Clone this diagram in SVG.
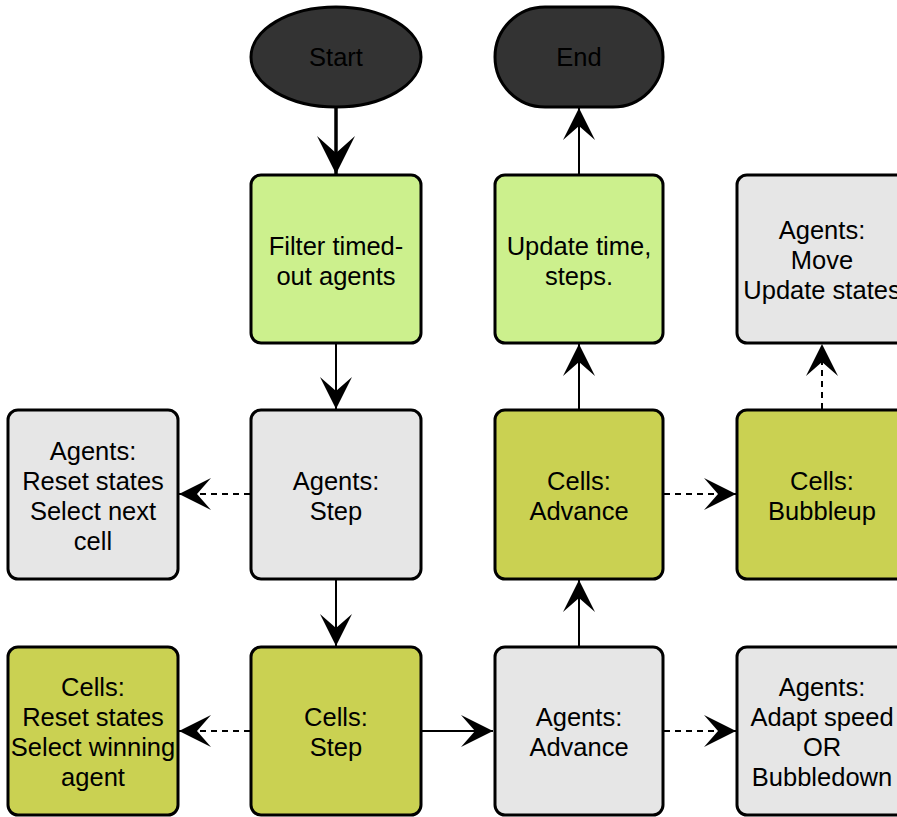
<svg xmlns="http://www.w3.org/2000/svg" width="897" height="817" viewBox="0 0 897 817">
  <style>
    .box { stroke: #000; stroke-width: 3; }
    .light { fill: #ccf08d; }
    .olive { fill: #cad152; }
    .grey { fill: #e6e6e6; }
    .dark { fill: #333333; }
    text { font-family: "Liberation Sans", Arial, sans-serif; font-size: 25.5px; fill: #000; text-anchor: middle; }
    .edge { stroke: #000; stroke-width: 2; fill: none; marker-end: url(#head); }
    .dash { stroke-dasharray: 6 5; }
    .thick { stroke-width: 3.5; marker-end: url(#bighead); }
  </style>
  <defs>
    <marker id="head" markerUnits="userSpaceOnUse" orient="auto" markerWidth="40" markerHeight="40" viewBox="-34 -20 40 40" refX="0" refY="0" overflow="visible">
      <path d="M0,0 L-32,-16 L-18,0 L-32,16 Z" fill="#000"/>
    </marker>
    <marker id="bighead" markerUnits="userSpaceOnUse" orient="auto" markerWidth="46" markerHeight="46" viewBox="-40 -23 46 46" refX="0" refY="0" overflow="visible">
      <path d="M0,0 L-38,-19 L-21,0 L-38,19 Z" fill="#000"/>
    </marker>
  </defs>

  <!-- connectors -->
  <g id="connectors">
    <line class="edge thick" x1="336" y1="108" x2="336" y2="174"/>
    <line class="edge" x1="336" y1="344" x2="336" y2="409"/>
    <line class="edge dash" x1="250" y1="494" x2="179" y2="494"/>
    <line class="edge" x1="336" y1="580" x2="336" y2="646"/>
    <line class="edge dash" x1="250" y1="731" x2="179" y2="731"/>
    <line class="edge" x1="422" y1="731" x2="493" y2="731"/>
    <line class="edge dash" x1="664" y1="731" x2="736" y2="731"/>
    <line class="edge" x1="579" y1="646" x2="579" y2="580"/>
    <line class="edge dash" x1="664" y1="494" x2="736" y2="494"/>
    <line class="edge" x1="579" y1="409" x2="579" y2="344"/>
    <line class="edge" x1="579" y1="174" x2="579" y2="108"/>
    <line class="edge dash" x1="822" y1="409" x2="822" y2="344"/>
  </g>

  <!-- terminals -->
  <g id="start">
    <ellipse class="box dark" cx="336" cy="57" rx="85" ry="50"/>
    <text x="336" y="66">Start</text>
  </g>
  <g id="end">
    <rect class="box dark" x="495" y="7" width="168" height="100" rx="50"/>
    <text x="579" y="66">End</text>
  </g>

  <!-- row 1 -->
  <g id="filter-timed-out">
    <rect class="box light" x="251" y="175" width="170" height="168" rx="10"/>
    <text x="336" y="255">Filter timed-</text>
    <text x="336" y="285">out agents</text>
  </g>
  <g id="update-time">
    <rect class="box light" x="495" y="175" width="168" height="168" rx="10"/>
    <text x="579" y="255">Update time,</text>
    <text x="579" y="285">steps.</text>
  </g>
  <g id="agents-move">
    <rect class="box grey" x="737" y="175" width="170" height="168" rx="10"/>
    <text x="822" y="239">Agents:</text>
    <text x="822" y="269">Move</text>
    <text x="822" y="299">Update states</text>
  </g>

  <!-- row 2 -->
  <g id="agents-reset">
    <rect class="box grey" x="8" y="410" width="170" height="169" rx="10"/>
    <text x="93" y="460">Agents:</text>
    <text x="93" y="490">Reset states</text>
    <text x="93" y="520">Select next</text>
    <text x="93" y="550">cell</text>
  </g>
  <g id="agents-step">
    <rect class="box grey" x="251" y="410" width="170" height="169" rx="10"/>
    <text x="336" y="490">Agents:</text>
    <text x="336" y="520">Step</text>
  </g>
  <g id="cells-advance">
    <rect class="box olive" x="495" y="410" width="168" height="169" rx="10"/>
    <text x="579" y="490">Cells:</text>
    <text x="579" y="520">Advance</text>
  </g>
  <g id="cells-bubbleup">
    <rect class="box olive" x="737" y="410" width="170" height="169" rx="10"/>
    <text x="822" y="490">Cells:</text>
    <text x="822" y="520">Bubbleup</text>
  </g>

  <!-- row 3 -->
  <g id="cells-reset">
    <rect class="box olive" x="8" y="647" width="170" height="168" rx="10"/>
    <text x="93" y="696">Cells:</text>
    <text x="93" y="726">Reset states</text>
    <text x="93" y="756">Select winning</text>
    <text x="93" y="786">agent</text>
  </g>
  <g id="cells-step">
    <rect class="box olive" x="251" y="647" width="170" height="168" rx="10"/>
    <text x="336" y="726">Cells:</text>
    <text x="336" y="756">Step</text>
  </g>
  <g id="agents-advance">
    <rect class="box grey" x="495" y="647" width="168" height="168" rx="10"/>
    <text x="579" y="726">Agents:</text>
    <text x="579" y="756">Advance</text>
  </g>
  <g id="agents-adapt">
    <rect class="box grey" x="737" y="647" width="170" height="168" rx="10"/>
    <text x="822" y="696">Agents:</text>
    <text x="822" y="726">Adapt speed</text>
    <text x="822" y="756">OR</text>
    <text x="822" y="786">Bubbledown</text>
  </g>
</svg>
